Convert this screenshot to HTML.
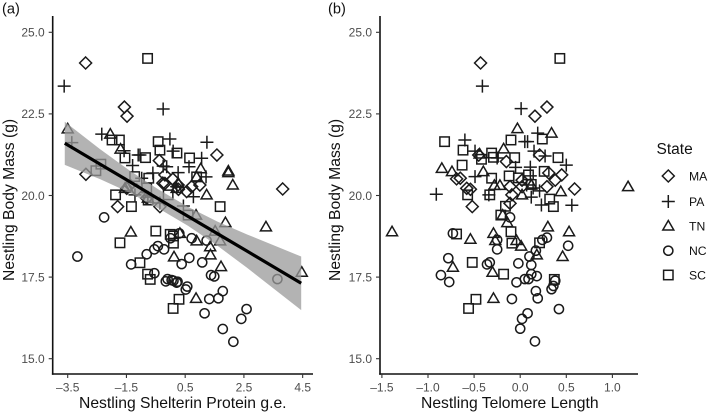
<!DOCTYPE html>
<html lang="en">
<head>
<meta charset="utf-8">
<title>Nestling Body Mass Chart</title>
<style>
html,body{margin:0;padding:0;background:#fff;}
svg{display:block;}
text{font-family:"Liberation Sans",sans-serif;}
.tick-label{font-size:12px;fill:#4d4d4d;}
.axis-title{font-size:15.7px;fill:#111;}
.panel-tag{font-size:14.6px;fill:#111;}
.legend-label{font-size:12.2px;fill:#111;}
.legend-title{font-size:15.5px;fill:#111;}
</style>
</head>
<body>
<svg id="chart" xmlns="http://www.w3.org/2000/svg" width="709" height="413" viewBox="0 0 709 413">
  <rect x="0" y="0" width="709" height="413" fill="#ffffff"/>
  <g id="panelA"></g>
  <g id="panelB"></g>
  <text class="panel-tag" x="2" y="13.5">(a)</text>
  <text class="panel-tag" x="328" y="13.5">(b)</text>
  <text class="axis-title" transform="translate(14,281) rotate(-90)">Nestling Body Mass (g)</text>
  <text class="axis-title" transform="translate(340,281) rotate(-90)">Nestling Body Mass (g)</text>
  <text class="axis-title" x="79" y="408">Nestling Shelterin Protein g.e.</text>
  <text class="axis-title" x="421" y="408">Nestling Telomere Length</text>
  <g id="legend">
    <text class="legend-title" x="656.5" y="154">State</text>
    <g fill="none" stroke="#1a1a1a" stroke-width="1.5">
      <polygon points="668.3,170 674.3,176 668.3,182 662.3,176"/>
      <text class="legend-label" x="689" y="180.5" stroke="none" fill="#111">MA</text>
    </g>
    <g fill="none" stroke="#1a1a1a" stroke-width="1.5">
      <path d="M661.8,201.5H674.8M668.3,195V208"/>
      <text class="legend-label" x="689" y="206" stroke="none" fill="#111">PA</text>
    </g>
    <g fill="none" stroke="#1a1a1a" stroke-width="1.5">
      <polygon points="668.3,220.5 673.8,230 662.8,230"/>
      <text class="legend-label" x="689" y="230.5" stroke="none" fill="#111">TN</text>
    </g>
    <g fill="none" stroke="#1a1a1a" stroke-width="1.5">
      <circle cx="668.3" cy="250.7" r="4.6"/>
      <text class="legend-label" x="689" y="255" stroke="none" fill="#111">NC</text>
    </g>
    <g fill="none" stroke="#1a1a1a" stroke-width="1.5">
      <rect x="663.6" y="270.3" width="9.4" height="9.4"/>
      <text class="legend-label" x="689" y="279.5" stroke="none" fill="#111">SC</text>
    </g>
  </g>
</svg>
<script>
// ---- tick values ----
var shelterinTicks = [-3.5, -1.5, 0.5, 2.5, 4.5];
var telomereTicks = [-1.5, -1.0, -0.5, 0.0, 0.5, 1.0];
var massTicks = [15.0, 17.5, 20.0, 22.5, 25.0];

// ---- panel (a): shelterin vs body mass ----
var maShelterin = [-2.89,-1.57,-1.48,-2.88,-1.80,1.58,3.82,-0.38,0.08,-0.19,-0.19,0.27,0.55,1.00,0.72,-1.38,-1.49,-1.15,-0.81,-0.36,0.26,-0.26];
var maMassA = [24.06,22.71,22.43,20.65,19.66,21.24,20.20,21.07,20.50,20.63,20.37,20.19,20.12,20.32,20.27,20.32,20.22,20.17,19.92,19.66,20.32,20.38];
var paShelterin = [-3.62,-0.25,-2.34,-3.36,-1.58,-1.10,-1.04,-1.29,-0.02,0.09,-0.25,0.26,1.24,1.06,0.63,1.21,0.78,0.44,-0.60,-0.98,-0.13,-1.21,-0.77,-0.36,0.21];
var paMassA = [23.35,22.65,21.88,21.62,21.37,21.24,21.24,20.92,21.73,21.36,20.90,20.70,21.63,21.14,20.88,20.57,19.96,19.68,20.69,20.53,20.88,20.02,19.95,19.77,20.27];
var tnShelterin = [-3.50,-2.05,-1.70,-1.55,1.03,1.97,1.97,2.12,1.23,0.89,0.21,0.26,-1.49,-0.77,0.87,1.87,3.25,1.52,1.69,1.35,1.36,1.72,4.47,0.87,0.12,0.89,-1.35,0.32];
var tnMassA = [22.04,21.88,21.42,20.22,20.82,20.75,20.70,20.32,20.02,20.57,20.22,20.38,20.27,19.92,19.40,19.17,19.04,18.91,18.61,18.43,18.18,17.82,17.65,16.85,18.12,18.61,18.88,18.84];
var ncShelterin = [-3.17,-2.26,-1.34,-0.81,-0.55,-0.43,-0.22,0.00,-0.55,-0.16,-0.10,0.10,0.24,0.38,0.64,1.08,1.23,0.72,0.30,1.38,1.49,3.64,1.78,1.63,1.32,1.16,2.59,2.41,1.78,2.14,0.57,0.52,0.21,0.04];
var ncMassA = [18.13,19.33,17.89,18.20,18.35,18.45,18.35,18.69,17.62,17.37,17.44,17.39,17.36,17.90,18.09,17.95,18.62,18.69,18.84,17.56,17.52,17.44,17.07,16.85,16.83,16.39,16.52,16.22,15.91,15.52,17.21,17.12,17.33,17.41];
var scShelterin = [-0.78,-1.74,-1.99,-0.42,-0.36,-1.55,-0.85,-0.74,-2.37,-2.54,-1.22,-1.87,-0.08,-1.33,-0.76,0.22,0.65,0.89,1.69,-0.81,0.60,-0.50,-1.72,-0.01,0.10,-1.04,-0.78,-0.69,0.29,0.09,0.10];
var scMassA = [24.20,21.70,21.70,21.65,21.39,21.15,21.16,20.53,20.96,20.76,20.58,20.02,20.02,19.66,19.86,21.30,21.15,20.57,19.66,20.23,19.40,18.91,18.55,18.81,18.54,17.94,17.59,17.43,16.82,16.54,18.76];

// ---- panel (a): fitted line and confidence band ----
var fitShelterin = [-3.6, -2.4, -1.4, -0.4, 0.6, 1.6, 2.6, 4.45];
var fitMass = [21.60, 20.96, 20.43, 19.89, 19.36, 18.83, 18.30, 17.31];
var fitUpper = [22.26, 21.42, 20.77, 20.18, 19.65, 19.20, 18.81, 18.13];
var fitLower = [20.94, 20.50, 20.09, 19.60, 19.07, 18.46, 17.79, 16.49];

// ---- panel (b): telomere length vs body mass ----
var maTelomere = [-0.43,0.29,0.16,0.59,-0.52,0.21,-0.15,-0.69,-0.58,-0.54,-0.65,-0.45,0.31,0.45,0.38,0.29,-0.11,-0.09,-0.11,0.02,0.02];
var maMassB = [24.06,22.71,22.43,20.20,19.66,21.24,21.04,20.51,20.22,20.19,20.53,21.24,20.69,20.63,20.47,20.27,20.27,20.02,19.76,20.47,20.27];
var paTelomere = [-0.41,0.01,0.19,0.05,0.08,-0.60,-0.91,-0.49,0.15,0.27,0.50,-0.25,-0.05,0.11,0.11,-0.49,0.14,-0.34,0.12,0.23,0.56,0.07,0.21];
var paMassB = [23.35,22.66,21.91,21.65,21.65,21.70,20.04,21.36,21.36,21.21,20.93,21.15,20.86,20.87,20.60,20.58,20.23,20.02,19.95,19.71,19.70,20.32,20.14];
var tnTelomere = [-1.39,-0.73,-0.54,-0.85,-0.74,-0.03,0.34,-0.18,-0.44,-0.40,-0.22,-0.28,0.44,0.02,0.12,-0.19,-0.14,0.30,0.53,-0.29,-0.27,-0.04,0.01,0.18,0.46,-0.30,-0.29,1.17];
var tnMassB = [18.89,17.80,18.66,20.83,20.73,22.05,21.91,21.43,21.27,20.73,20.31,20.31,20.12,20.02,20.32,19.40,19.17,19.04,18.89,18.84,18.62,18.62,18.45,18.18,18.13,17.65,16.85,20.27];
var ncTelomere = [-0.73,-0.78,-0.86,-0.77,-0.11,-0.25,-0.25,0.24,0.29,0.52,0.17,0.10,-0.02,0.12,-0.33,-0.36,0.12,0.18,0.05,0.09,-0.04,0.38,0.36,0.34,0.17,0.19,-0.09,0.42,0.08,0.02,0.00,0.16];
var ncMassB = [18.84,18.08,17.56,17.35,19.33,18.64,18.35,18.64,18.71,18.46,18.31,18.13,17.92,17.87,17.95,17.89,17.59,17.53,17.44,17.44,17.34,17.39,17.23,17.13,17.07,16.85,16.83,16.52,16.39,16.22,15.92,15.53];
var scTelomere = [0.43,-0.10,0.24,0.41,-0.06,-0.31,-0.29,-0.42,-0.62,-0.63,-0.31,-0.12,-0.02,0.26,0.12,-0.57,-0.33,0.32,-0.16,0.36,0.09,-0.82,-0.21,-0.10,-0.09,0.21,-0.52,-0.18,0.37,-0.48,-0.56,-0.69];
var scMassB = [24.20,21.70,21.73,21.16,21.16,21.30,21.17,21.11,21.39,20.93,20.53,20.60,20.54,20.74,20.34,20.02,20.02,19.89,19.67,19.66,20.63,21.65,19.40,18.89,18.54,18.55,17.95,17.59,17.43,16.82,16.54,18.82];

var NS = 'http://www.w3.org/2000/svg';
var INK = '#1a1a1a';
var AXIS = '#111111';

function yScale(v) { return 358.7 - (v - 15) * 32.64; }
function xScaleA(v) { return 67.7 + (v + 3.5) * 29.37; }
function xScaleB(v) { return 520.2 + v * 92.2; }

function make(tag, attrs) {
  var el = document.createElementNS(NS, tag);
  for (var k in attrs) { el.setAttribute(k, attrs[k]); }
  return el;
}

function markerShape(shape, cx, cy) {
  var c = {fill: 'none', stroke: INK, 'stroke-width': 1.5};
  var el;
  if (shape === 'diamond') {
    c.points = cx + ',' + (cy - 6) + ' ' + (cx + 6) + ',' + cy + ' ' + cx + ',' + (cy + 6) + ' ' + (cx - 6) + ',' + cy;
    el = make('polygon', c);
  } else if (shape === 'plus') {
    c.d = 'M' + (cx - 6.5) + ',' + cy + 'H' + (cx + 6.5) + 'M' + cx + ',' + (cy - 6.5) + 'V' + (cy + 6.5);
    el = make('path', c);
  } else if (shape === 'triangle') {
    c.points = cx + ',' + (cy - 5.5) + ' ' + (cx + 5.5) + ',' + (cy + 4) + ' ' + (cx - 5.5) + ',' + (cy + 4);
    el = make('polygon', c);
  } else if (shape === 'circle') {
    c.cx = cx; c.cy = cy; c.r = 4.6;
    el = make('circle', c);
  } else {
    c.x = cx - 4.7; c.y = cy - 4.7; c.width = 9.4; c.height = 9.4;
    el = make('rect', c);
  }
  return el;
}

function drawPoints(group, xs, ys, xScale, shape, name) {
  for (var i = 0; i < xs.length; i++) {
    var mark = markerShape(shape, xScale(xs[i]), yScale(ys[i]));
    
    
    group.appendChild(mark);
  }
}

function fmt(v) { return v.toFixed(1).replace('-', '\u2013'); }

function drawAxes(group, xTicks, xScale, axisX, axisEnd, prefix) {
  var bottom = 374;
  var yLine = make('line', {x1: axisX, y1: 16, x2: axisX, y2: bottom + 0.8, stroke: AXIS, 'stroke-width': 1.6});
  
  
  group.appendChild(yLine);
  var xLine = make('line', {x1: axisX - 0.8, y1: bottom, x2: axisEnd, y2: bottom, stroke: AXIS, 'stroke-width': 1.6});
  
  
  group.appendChild(xLine);
  massTicks.forEach(function (t) {
    var py = yScale(t);
    var tick = make('line', {x1: axisX - 4, y1: py, x2: axisX, y2: py, stroke: '#333', 'stroke-width': 1.1});
    
    
    group.appendChild(tick);
    var label = make('text', {x: axisX - 8, y: py + 4.3, 'text-anchor': 'end', 'class': 'tick-label'});
    
    
    label.textContent = fmt(t);
    group.appendChild(label);
  });
  xTicks.forEach(function (t) {
    var px = xScale(t);
    var tick = make('line', {x1: px, y1: bottom, x2: px, y2: bottom + 4, stroke: '#333', 'stroke-width': 1.1});
    
    
    group.appendChild(tick);
    var label = make('text', {x: px, y: 391.5, 'text-anchor': 'middle', 'class': 'tick-label'});
    
    
    label.textContent = fmt(t);
    group.appendChild(label);
  });
}

var panelA = document.getElementById('panelA');
var panelB = document.getElementById('panelB');

// Panel (a)
drawPoints(panelA, maShelterin, maMassA, xScaleA, 'diamond', 'point-ma');
drawPoints(panelA, paShelterin, paMassA, xScaleA, 'plus', 'point-pa');
drawPoints(panelA, tnShelterin, tnMassA, xScaleA, 'triangle', 'point-tn');
drawPoints(panelA, ncShelterin, ncMassA, xScaleA, 'circle', 'point-nc');
drawPoints(panelA, scShelterin, scMassA, xScaleA, 'square', 'point-sc');

var bandPts = [];
fitShelterin.forEach(function (x, i) { bandPts.push(xScaleA(x) + ',' + yScale(fitUpper[i])); });
for (var j = fitShelterin.length - 1; j >= 0; j--) { bandPts.push(xScaleA(fitShelterin[j]) + ',' + yScale(fitLower[j])); }
var band = make('polygon', {points: bandPts.join(' '), fill: '#999999', 'fill-opacity': 0.75, stroke: 'none'});


panelA.appendChild(band);

var linePts = fitShelterin.map(function (x, i) { return xScaleA(x) + ',' + yScale(fitMass[i]); }).join(' ');
var fitLine = make('polyline', {points: linePts, fill: 'none', stroke: '#000000', 'stroke-width': 3.2});


panelA.appendChild(fitLine);

drawAxes(panelA, shelterinTicks, xScaleA, 52.7, 313, 'panel-a');

// Panel (b)
drawPoints(panelB, maTelomere, maMassB, xScaleB, 'diamond', 'point-ma');
drawPoints(panelB, paTelomere, paMassB, xScaleB, 'plus', 'point-pa');
drawPoints(panelB, tnTelomere, tnMassB, xScaleB, 'triangle', 'point-tn');
drawPoints(panelB, ncTelomere, ncMassB, xScaleB, 'circle', 'point-nc');
drawPoints(panelB, scTelomere, scMassB, xScaleB, 'square', 'point-sc');

drawAxes(panelB, telomereTicks, xScaleB, 380, 638, 'panel-b');
</script>
</body>
</html>
